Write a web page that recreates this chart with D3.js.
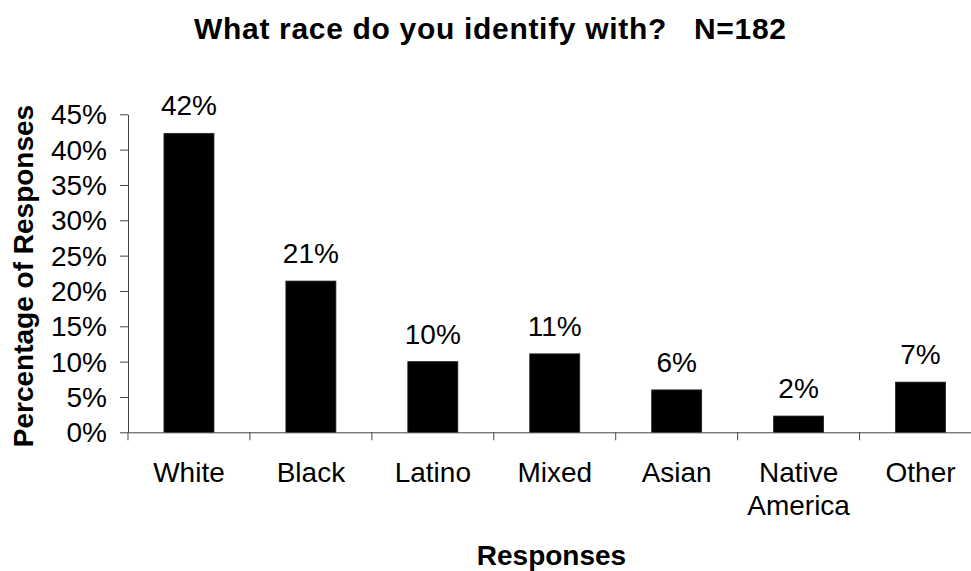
<!DOCTYPE html>
<html>
<head>
<meta charset="utf-8">
<script src="https://cdn.jsdelivr.net/npm/d3@7"></script>
<style>
  html, body { margin: 0; padding: 0; background: #fff; }
  svg { display: block; font-family: "Liberation Sans", Arial, sans-serif; }
</style>
</head>
<body>
<svg id="chart" width="971" height="571"></svg>
<script>
const titleText = "What race do you identify with?   N=182";
const yAxisTitle = "Percentage of Responses";
const xAxisTitle = "Responses";
const categories = ["White", "Black", "Latino", "Mixed", "Asian", "Native America", "Other"];
const values = [42.3, 21.4, 10.0, 11.1, 6.0, 2.3, 7.1];
const yTicks = [0, 5, 10, 15, 20, 25, 30, 35, 40, 45];

(function () {
const svg = d3.select("#chart");
const plotLeft = 128, plotRight = 981.5, plotTop = 114.3, plotBottom = 432.3;

const x = d3.scaleBand().domain(categories).range([plotLeft, plotRight]).padding(0);
const y = d3.scaleLinear().domain([0, 45]).range([plotBottom, plotTop]);
const barW = x.bandwidth() * 0.41;

// Title
svg.append("text")
  .attr("x", 490).attr("y", 38.5)
  .attr("text-anchor", "middle")
  .attr("font-size", 30).attr("font-weight", "bold")
  .attr("textLength", 592).attr("lengthAdjust", "spacing")
  .style("white-space", "pre")
  .text(titleText);

// Bars
svg.append("g").selectAll("rect").data(categories).join("rect")
  .attr("x", (d) => x(d) + (x.bandwidth() - barW) / 2)
  .attr("y", (d, i) => y(values[i]))
  .attr("width", barW)
  .attr("height", (d, i) => y(0) - y(values[i]))
  .attr("fill", "#000")
  .attr("stroke", "#222").attr("stroke-width", 0.8);

// Value labels
svg.append("g").selectAll("text").data(categories).join("text")
  .attr("x", (d) => x(d) + x.bandwidth() / 2)
  .attr("y", (d, i) => y(values[i]) - 18)
  .attr("text-anchor", "middle")
  .attr("font-size", 28)
  .text((d, i) => d3.format(".0f")(values[i]) + "%");

// Y axis
const yAxis = svg.append("g")
  .attr("transform", `translate(${plotLeft},0)`)
  .call(d3.axisLeft(y).tickValues(yTicks).tickFormat((d) => d + "%").tickSize(8).tickSizeOuter(0).tickPadding(13));
yAxis.select(".domain").attr("stroke", "#444");
yAxis.selectAll(".tick line").attr("stroke", "#444");
yAxis.selectAll(".tick text").attr("font-size", 28).attr("fill", "#000")
  .attr("font-family", "Liberation Sans, Arial, sans-serif").attr("dy", "0.34em");

// X axis
const xAxis = svg.append("g")
  .attr("transform", `translate(0,${plotBottom})`)
  .call(d3.axisBottom(x).tickSize(0).tickSizeOuter(0).tickFormat(""));
xAxis.select(".domain").attr("stroke", "#444");
xAxis.selectAll(".tick").remove();
const boundaries = categories.map((d) => x(d)).concat([x(categories[categories.length - 1]) + x.bandwidth()]);
xAxis.selectAll("line.bt").data(boundaries).join("line")
  .attr("class", "bt")
  .attr("x1", (d) => d).attr("x2", (d) => d)
  .attr("y1", 0).attr("y2", 8)
  .attr("stroke", "#444");

// X category labels (wrapped on spaces)
const xl = svg.append("g").selectAll("text").data(categories).join("text")
  .attr("x", (d) => x(d) + x.bandwidth() / 2)
  .attr("y", plotBottom + 49.5)
  .attr("text-anchor", "middle")
  .attr("font-size", 28);
xl.each(function (d) {
  const parts = d.split(" ");
  const t = d3.select(this);
  parts.forEach((p, i) => {
    t.append("tspan")
      .attr("x", x(d) + x.bandwidth() / 2)
      .attr("dy", i === 0 ? 0 : 33)
      .text(p);
  });
});

// Axis titles
svg.append("text")
  .attr("transform", "translate(33,276) rotate(-90)")
  .attr("text-anchor", "middle")
  .attr("font-size", 28).attr("font-weight", "bold")
  .text(yAxisTitle);

svg.append("text")
  .attr("x", 551.5).attr("y", 565)
  .attr("text-anchor", "middle")
  .attr("font-size", 28).attr("font-weight", "bold")
  .text(xAxisTitle);
})();
</script>
</body>
</html>
